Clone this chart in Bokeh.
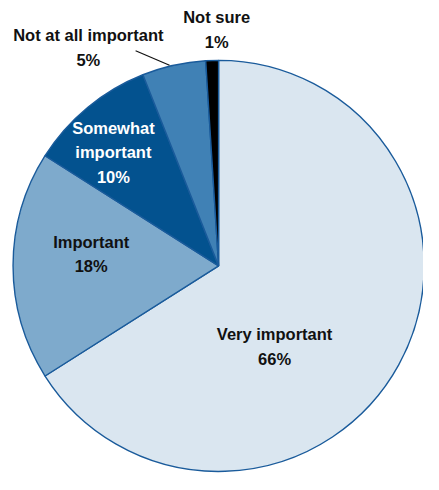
import math
from bokeh.plotting import figure
from bokeh.models import Range1d, ColumnDataSource
from bokeh.core.properties import value
from bokeh.embed import file_html
from bokeh.resources import INLINE

# ---- data ----
categories = ["Very important", "Important", "Somewhat important", "Not at all important", "Not sure"]
percents = [66, 18, 10, 5, 1]
label_lines = [["Very important", "66%"], ["Important", "18%"], ["Somewhat", "important", "10%"],
               ["Not at all important", "5%"], ["Not sure", "1%"]]

# ---- style / layout ----
colors = ["#dae6f0", "#7eaacc", "#03528f", "#4081b5", "#000000"]
text_colors = ["#111111", "#111111", "#ffffff", "#111111", "#111111"]
W, H = 423, 474
S = 0.965                              # scale from a 439x490 design to the figure
cx, cy, R = 226 * S, H - 275 * S, 213 * S
# first-line centre of each label in design pixels (x right, y down)
label_anchor = [(284, 346), (94, 250), (117, 132), (91, 36), (224, 17)]
line_gap = 25.5 * S
leader_start = (140, 52)
FONT = "Liberation Sans"

p = figure(width=W, height=H, output_backend="svg", toolbar_location=None,
           x_range=Range1d(0, W), y_range=Range1d(0, H), min_border=0)
p.axis.visible = False
p.grid.visible = False
p.outline_line_color = None
p.background_fill_color = "white"
p.border_fill_color = "white"

total = float(sum(percents))
starts, ends = [], []
cum = 0.0
for v in percents:
    starts.append(math.pi / 2 - 2 * math.pi * cum / total)
    cum += v
    ends.append(math.pi / 2 - 2 * math.pi * cum / total)

src = ColumnDataSource(dict(x=[cx] * len(percents), y=[cy] * len(percents),
                            start=starts, end=ends, color=colors))
p.wedge(x="x", y="y", radius=R, start_angle="start", end_angle="end", direction="clock",
        fill_color="color", line_color="#1a5b9b", line_width=1.4, source=src)

# leader line for the small "Not at all important" slice
i = 3
mid = (starts[i] + ends[i]) / 2 + 0.02
ex, ey = cx + (R + 1) * math.cos(mid), cy + (R + 1) * math.sin(mid)
p.line(x=[leader_start[0] * S, ex], y=[H - leader_start[1] * S, ey],
       line_color="#111111", line_width=1.2)

tx, ty, tt, tc = [], [], [], []
for k, lines in enumerate(label_lines):
    ax, ay = label_anchor[k]
    for j, s in enumerate(lines):
        tx.append(ax * S)
        ty.append(H - ay * S - j * line_gap)
        tt.append(s)
        tc.append(text_colors[k])
p.text(x=tx, y=ty, text=tt, text_color=tc, text_align="center", text_baseline="middle",
       text_font=value(FONT), text_font_style="bold", text_font_size="16.5px")

open("out.html", "w").write(file_html(p, INLINE))
